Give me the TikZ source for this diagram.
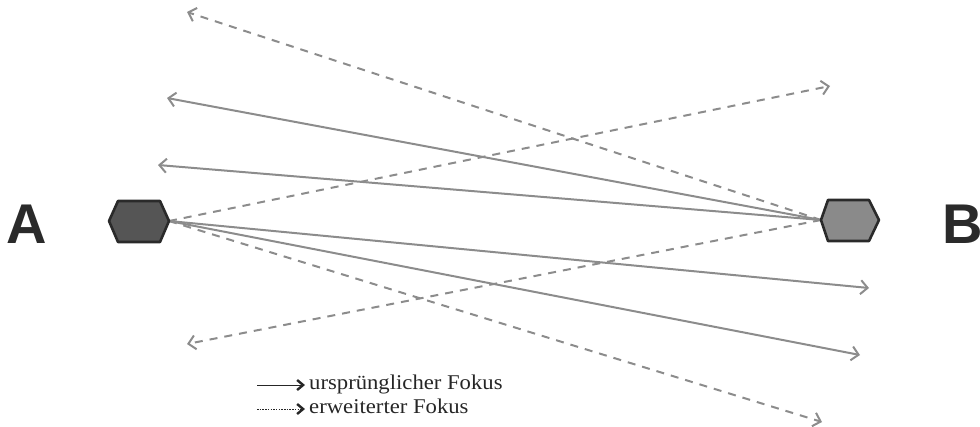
\documentclass[tikz,border=0pt]{standalone}
\usepackage{fontspec}
\setmainfont{Liberation Serif}
\newfontfamily\legfont[FakeStretch=1.08]{Liberation Serif}
\newfontfamily\lettfont{Liberation Sans}
\usetikzlibrary{arrows.meta}
\definecolor{linegray}{HTML}{8C8C8C}
\definecolor{hexdark}{HTML}{555555}
\definecolor{hexlight}{HTML}{8A8A8A}
\definecolor{hexborder}{HTML}{2A2A2A}
\tikzset{
  ray/.style={draw=linegray, line width=2pt, -{Straight Barb[length=7pt,width=14pt,line width=2pt]}},
  dashray/.style={ray, dash pattern=on 8pt off 7pt},
  hexbox/.style={draw=hexborder, line width=2.6pt, line join=round},
  bigletter/.style={font=\lettfont\bfseries\fontsize{56}{56}\selectfont, inner sep=0pt, anchor=base west},
  legarrow/.style={draw=black!85, line width=1pt, -{Straight Barb[length=6pt,width=10pt,line width=2.4pt]}},
  legtext/.style={font=\legfont\fontsize{21}{21}\selectfont, text=black!85, inner sep=0pt, anchor=base west}
}
\begin{document}
\begin{tikzpicture}[x=1pt,y=-1pt]
\useasboundingbox (0,0) rectangle (980,426);
% tips
\coordinate (At) at (169,221);
\coordinate (Bt) at (821,220);
% ends
\coordinate (e1) at (167,98);
\coordinate (e2) at (158,165);
\coordinate (e3) at (869,288);
\coordinate (e4) at (860,355);
\coordinate (d1) at (187,12);
\coordinate (d2) at (187,344);
\coordinate (d3) at (830,86);
\coordinate (d4) at (822,422);
% rays
\draw[dashray] (Bt) -- (d1);
\draw[dashray] (Bt) -- (d2);
\draw[dashray] (At) -- (d3);
\draw[dashray] (At) -- (d4);
\draw[ray] (Bt) -- (e1);
\draw[ray] (Bt) -- (e2);
\draw[ray] (At) -- (e3);
\draw[ray] (At) -- (e4);
% hexagons
\draw[hexbox, fill=hexdark] (109,221) -- (118,201) -- (160,201) -- (169,221) -- (160,242) -- (118,242) -- cycle;
\draw[hexbox, fill=hexlight] (821,220) -- (828,200) -- (869,200) -- (879,220) -- (869,241) -- (828,241) -- cycle;
% letters
\node[bigletter, text=hexborder] (la) at (6,243) {A};
\node[bigletter, text=hexborder] (lb) at (942,243) {B};
% legend
\coordinate (l1s) at (257,385);
\coordinate (l1e) at (305,385);
\coordinate (l2s) at (257,409);
\coordinate (l2e) at (305,409);
\draw[legarrow] (l1s) -- (l1e);
\draw[legarrow, dash pattern=on 1.5pt off 1.2pt] (l2s) -- (l2e);
\node[legtext] (t1) at (309,389) {ursprünglicher Fokus};
\node[legtext] (t2) at (309,413) {erweiterter Fokus};
\end{tikzpicture}
\end{document}
